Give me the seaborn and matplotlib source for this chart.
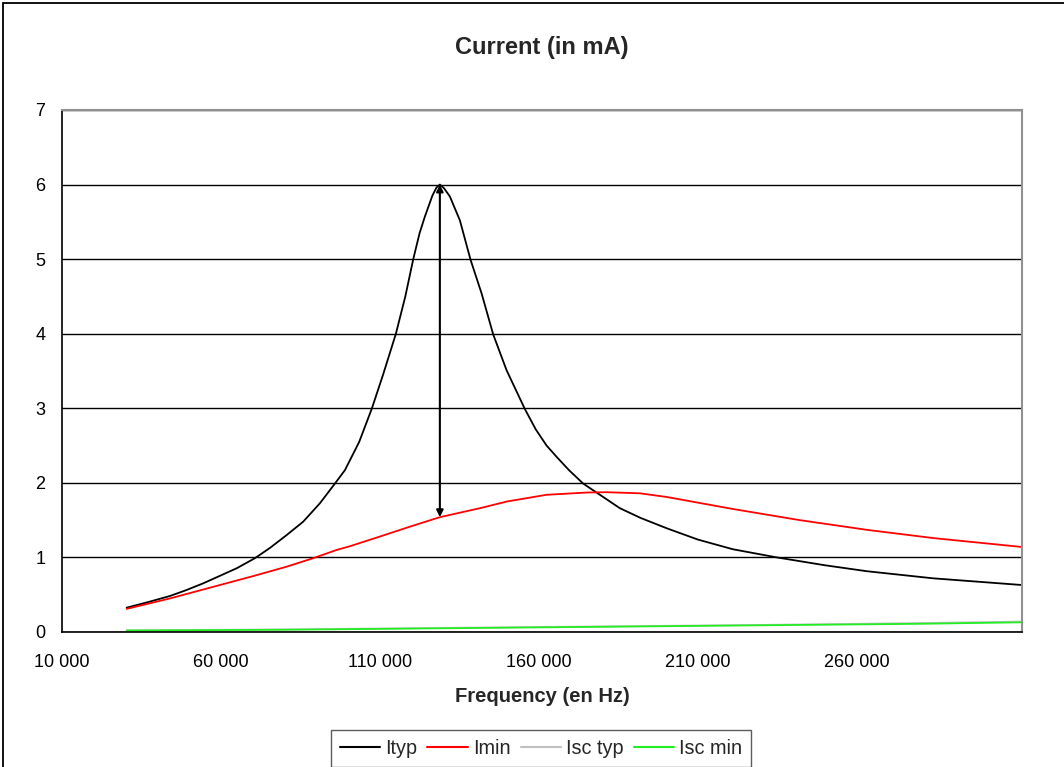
import matplotlib
matplotlib.use("Agg")
import matplotlib.pyplot as plt
import seaborn as sns
import pandas as pd
from matplotlib.patches import Rectangle
from matplotlib.lines import Line2D
from matplotlib.ticker import FuncFormatter

# ---- data ----
freq_ityp = [30340, 37000, 43970, 49000, 54440, 59500, 64930, 70700, 75500, 80670,
             85890, 91130, 95850, 99000, 103500, 107500, 111000, 115040, 118000,
             120500, 122500, 124150, 126500, 127800, 128870, 130200, 132020, 135170,
             138530, 142000, 145650, 149860, 155610, 159000, 162440, 166000, 169500,
             173960, 178170, 185500, 192000, 200300, 210000, 221000, 234900, 250000,
             263200, 284000, 312000]
ityp = [0.326, 0.40, 0.483, 0.56, 0.653, 0.75, 0.854, 0.99, 1.13, 1.30,
        1.48, 1.726, 1.99, 2.17, 2.55, 3.0, 3.45, 4.0, 4.5,
        5.0, 5.35, 5.57, 5.85, 5.96, 6.0, 5.95, 5.84, 5.52,
        4.99, 4.54, 3.99, 3.51, 2.99, 2.72, 2.50, 2.33, 2.17,
        1.99, 1.87, 1.66, 1.53, 1.39, 1.24, 1.11, 1.0, 0.895,
        0.815, 0.72, 0.63]

freq_imin = [30340, 43970, 59690, 70170, 80670, 89050, 96390, 100570, 110000, 120000,
             128900, 141460, 150000, 162440, 175000, 181000, 191800, 200300, 221000,
             242100, 263200, 284000, 312000]
imin = [0.31, 0.45, 0.63, 0.75, 0.876, 0.99, 1.10, 1.15, 1.28, 1.42,
        1.54, 1.66, 1.75, 1.84, 1.87, 1.875, 1.86, 1.81, 1.65,
        1.50, 1.37, 1.26, 1.14]

freq_isc = [30340, 80000, 130000, 180000, 230000, 280000, 312000]
isc_typ = [0.022, 0.035, 0.055, 0.075, 0.095, 0.12, 0.14]
isc_min = [0.02, 0.03, 0.05, 0.07, 0.09, 0.11, 0.13]

series_names = ["Ityp", "Imin", "Isc typ", "Isc min"]
series_colors = ["#000000", "#ff0000", "#c0c0c0", "#22ee22"]
x_ticks = [10000, 60000, 110000, 160000, 210000, 260000]
y_ticks = [0, 1, 2, 3, 4, 5, 6, 7]
arrow_freq = 128870
arrow_top = 6.0
arrow_bottom = 1.54

title = "Current (in mA)"
xlabel = "Frequency (en Hz)"

# ---- build long table ----
frames = [
    pd.DataFrame({"freq": freq_ityp, "value": ityp, "series": "Ityp"}),
    pd.DataFrame({"freq": freq_imin, "value": imin, "series": "Imin"}),
    pd.DataFrame({"freq": freq_isc, "value": isc_typ, "series": "Isc typ"}),
    pd.DataFrame({"freq": freq_isc, "value": isc_min, "series": "Isc min"}),
]
df = pd.concat(frames, ignore_index=True)

sns.set_theme(style="white")
plt.rcParams["font.family"] = ["Liberation Sans", "DejaVu Sans"]

fig = plt.figure(figsize=(10.64, 7.67), dpi=100)
ax = fig.add_axes([62 / 1064, (767 - 632) / 767, (1022 - 62) / 1064, (632 - 110) / 767])

sns.lineplot(data=df, x="freq", y="value", hue="series", hue_order=series_names,
             palette=dict(zip(series_names, series_colors)), linewidth=1.3,
             sort=False, ax=ax, legend=False)

# arrow
ax.annotate("", xy=(arrow_freq, arrow_top), xytext=(arrow_freq, arrow_bottom),
            arrowprops=dict(arrowstyle="<|-|>", color="black", lw=1.5,
                            mutation_scale=10, shrinkA=0, shrinkB=0))

ax.set_xlim(10000, 312000)
ax.set_ylim(0, 7)
ax.set_xticks(x_ticks)
ax.xaxis.set_major_formatter(FuncFormatter(lambda v, p: f"{int(v):,}".replace(",", " ")))
ax.set_yticks(y_ticks)
ax.grid(axis="y", color="black", linewidth=1.0)
ax.grid(axis="x", visible=False)
ax.set_axisbelow(True)
ax.tick_params(axis="both", which="major", direction="out", length=6, width=1,
               color="black", labelsize=13, colors="black", pad=6)
ax.tick_params(axis="x", pad=10)
for s in ["left", "bottom"]:
    ax.spines[s].set_color("black")
    ax.spines[s].set_linewidth(1.2)
for s in ["top", "right"]:
    ax.spines[s].set_color("#909090")
    ax.spines[s].set_linewidth(1.5)

ax.set_title(title, fontsize=17, fontweight="bold", pad=40)
ax.set_xlabel(xlabel, fontsize=14.5, fontweight="bold", labelpad=11)
ax.set_ylabel("")

handles = [Line2D([0], [0], color=c, lw=1.5) for c in series_colors]
leg = fig.legend(handles, series_names, loc="lower center", ncol=4,
                 bbox_to_anchor=(0.5085, 0.0005), fontsize=14.3, frameon=True,
                 fancybox=False, edgecolor="#333333", handlelength=2.05,
                 handletextpad=0.25, columnspacing=0.5, borderpad=0.45,
                 borderaxespad=0.0)
leg.get_frame().set_linewidth(1.0)

# outer chart frame (top and left visible)
fig.patches.append(Rectangle((0.003, -0.05), 1.2, 1.046, transform=fig.transFigure,
                             fill=False, edgecolor="black", linewidth=1.3))

fig.savefig("out.png", dpi=100)
